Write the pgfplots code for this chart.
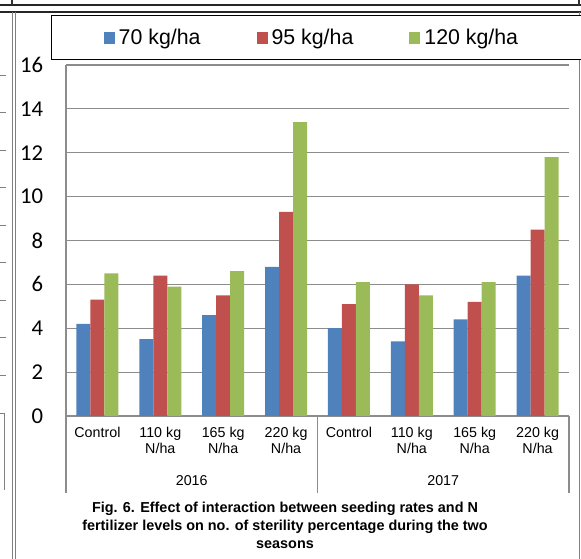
\documentclass[border=0pt]{standalone}
\usepackage{pgfplots}
\pgfplotsset{compat=1.18}
\usepackage{fontspec}
\setmainfont{Liberation Sans}
\newfontfamily\carlito{Carlito}

\definecolor{c70}{HTML}{4F81BD}
\definecolor{c95}{HTML}{C0504D}
\definecolor{c120}{HTML}{9BBB59}
\definecolor{gridc}{HTML}{8C8C8C}

\begin{document}
\begin{tikzpicture}
% page frame (pixel units, y down)
\begin{scope}[x=0.75pt,y=-0.75pt,yshift=419.25pt]
  \draw[black!85,line width=1.2pt] (0,5) -- (581,5);
  \draw[black!85,line width=1.5pt] (0,12) -- (581,12);
  \draw[black!80,line width=0.8pt] (12,0) -- (12,5);
  \draw[black!80,line width=0.8pt] (579,0) -- (579,5);
  \draw[gray,line width=0.7pt] (12.5,12) -- (12.5,559);
  \draw[gray,line width=0.7pt] (15,12) -- (15,559);
  \draw[gray,line width=0.7pt] (579,12) -- (579,559);
  \foreach \k in {0,...,8}{\draw[gray,line width=0.7pt] (0,75+37.5*\k) -- (6,75+37.5*\k);}
  \draw[gray,line width=0.7pt] (0,413) -- (4,413) -- (4,490);
  \node[font=\bfseries\fontsize{10.8}{13.5}\selectfont,align=center] at (285,525)
    {Fig. 6. Effect of interaction between seeding rates and N\\
     fertilizer levels on no. of sterility percentage during the two\\
     seasons};
\end{scope}

\begin{axis}[
    at={(49.5pt,107.25pt)}, anchor=south west,
    scale only axis,
    width=377.25pt, height=263.25pt,
    ybar=0pt,
    bar width=10.5pt,
    xmin=-0.5, xmax=7.5,
    ymin=0, ymax=16,
    xtick={0,...,7},
    xticklabels={Control,110 kg\\N/ha,165 kg\\N/ha,220 kg\\N/ha,Control,110 kg\\N/ha,165 kg\\N/ha,220 kg\\N/ha},
    xticklabel style={align=center,font=\fontsize{10.7}{12}\selectfont,yshift=-5pt},
    ytick={0,2,...,16},
    yticklabel style={font=\carlito\fontsize{17}{18}\selectfont,anchor=east,inner xsep=0pt,xshift=-17pt},
    /pgf/number format/assume math mode=true,
    major tick length=0pt,
    ymajorgrids,
    major grid style={gridc,line width=0.9pt},
    axis x line*=bottom, axis y line*=left,
    axis line style={-,gridc,line width=0.9pt},
    clip=false,
    legend columns=3,
    legend image code/.code={\fill[#1] (0pt,-4.5pt) rectangle (8.25pt,4.5pt);},
    legend style={at={(-0.0298,1.078)},anchor=west,draw=black,line width=1.1pt,
      font=\fontsize{16}{18}\selectfont,inner xsep=39pt,inner ysep=8pt,
      /tikz/every even column/.append style={column sep=39pt},
      nodes={inner xsep=3pt}},
]
\addplot[fill=c70,draw=none] coordinates {
  (0,4.2) (1,3.5) (2,4.6) (3,6.8) (4,4.0) (5,3.4) (6,4.4) (7,6.4)};
\addplot[fill=c95,draw=none] coordinates {
  (0,5.3) (1,6.4) (2,5.5) (3,9.3) (4,5.1) (5,6.0) (6,5.2) (7,8.5)};
\addplot[fill=c120,draw=none] coordinates {
  (0,6.5) (1,5.9) (2,6.6) (3,13.4) (4,6.1) (5,5.5) (6,6.1) (7,11.8)};
\legend{70 kg/ha,95 kg/ha,120 kg/ha\hspace*{7.5pt}}

\draw[gridc,line width=0.9pt] (axis cs:-0.5,0) -- ++(0pt,-57.75pt);
\draw[gridc,line width=0.9pt] (axis cs:3.5,0) -- ++(0pt,-57.75pt);
\draw[gridc,line width=0.9pt] (axis cs:7.5,0) -- ++(0pt,-57.75pt);
\node[font=\fontsize{10.7}{12}\selectfont] at ([yshift=-48.75pt]axis cs:1.5,0) {2016};
\node[font=\fontsize{10.7}{12}\selectfont] at ([yshift=-48.75pt]axis cs:5.5,0) {2017};
\end{axis}

\pgfresetboundingbox
\useasboundingbox (0,0) rectangle (435.75pt,419.25pt);
\end{tikzpicture}
\end{document}
